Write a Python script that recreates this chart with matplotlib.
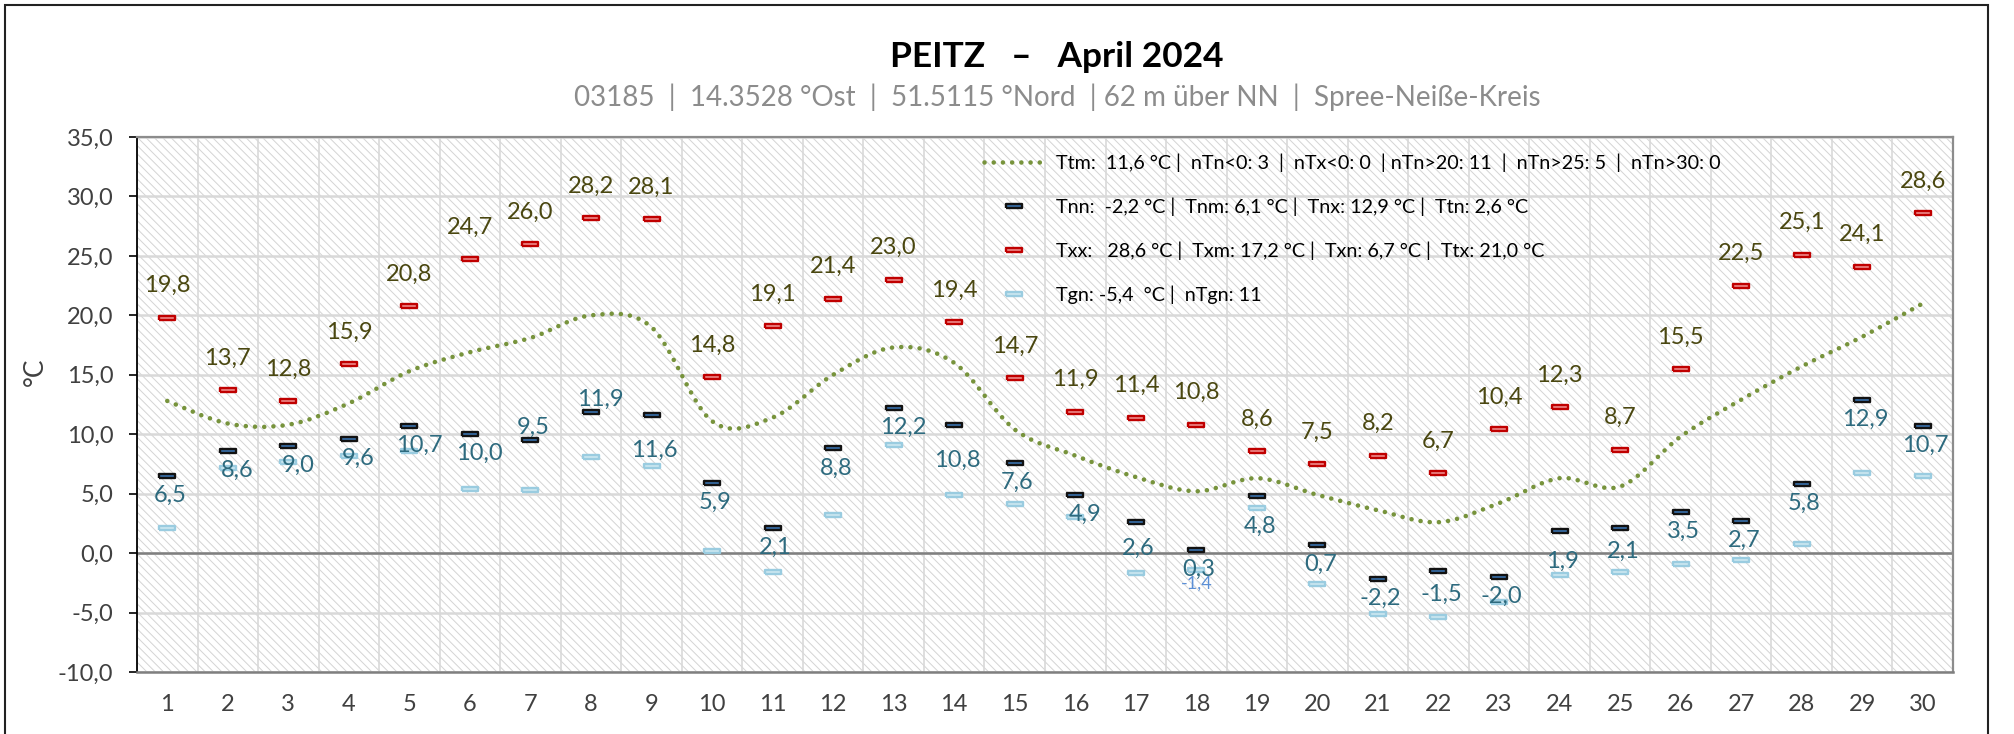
import matplotlib
matplotlib.use("Agg")
import matplotlib.pyplot as plt
import numpy as np
from matplotlib.path import Path
from matplotlib.patches import PathPatch, Rectangle
from matplotlib.lines import Line2D

plt.rcParams['font.family'] = ['Lato', 'DejaVu Sans']
plt.rcParams['hatch.linewidth'] = 0.7

# --- data (April 2024, Peitz) ---
days = list(range(1, 31))
t_max = [19.8, 13.7, 12.8, 15.9, 20.8, 24.7, 26.0, 28.2, 28.1, 14.8,
         19.1, 21.4, 23.0, 19.4, 14.7, 11.9, 11.4, 10.8, 8.6, 7.5,
         8.2, 6.7, 10.4, 12.3, 8.7, 15.5, 22.5, 25.1, 24.1, 28.6]
t_min = [6.5, 8.6, 9.0, 9.6, 10.7, 10.0, 9.5, 11.9, 11.6, 5.9,
         2.1, 8.8, 12.2, 10.8, 7.6, 4.9, 2.6, 0.3, 4.8, 0.7,
         -2.2, -1.5, -2.0, 1.9, 2.1, 3.5, 2.7, 5.8, 12.9, 10.7]
t_ground = [2.1, 7.2, 7.7, 8.2, 8.6, 5.4, 5.3, 8.1, 7.3, 0.2,
            -1.6, 3.2, 9.1, 4.9, 4.1, 3.0, -1.7, -1.4, 3.8, -2.6,
            -5.1, -5.4, -4.1, -1.8, -1.6, -0.9, -0.6, 0.8, 6.7, 6.5]
t_mean = [12.8, 10.9, 10.8, 12.6, 15.3, 16.9, 18.1, 20.0, 19.0, 11.1,
          11.4, 15.0, 17.3, 16.0, 10.4, 8.2, 6.4, 5.2, 6.3, 4.9,
          3.6, 2.6, 4.2, 6.3, 5.6, 9.8, 12.9, 15.7, 18.2, 21.0]

legend_labels = [
    "Ttm:  11,6 °C |  nTn<0: 3  |  nTx<0: 0  | nTn>20: 11  |  nTn>25: 5  |  nTn>30: 0",
    "Tnn:  -2,2 °C |  Tnm: 6,1 °C |  Tnx: 12,9 °C |  Ttn: 2,6 °C",
    "Txx:   28,6 °C |  Txm: 17,2 °C |  Txn: 6,7 °C |  Ttx: 21,0 °C",
    "Tgn: -5,4  °C |  nTgn: 11",
]
title = "PEITZ   –   April 2024"
subtitle = "03185  |  14.3528 °Ost  |  51.5115 °Nord  | 62 m über NN  |  Spree-Neiße-Kreis"


def fmt(v):
    return f"{v:.1f}".replace(".", ",")


W, H = 2014, 734
fig = plt.figure(figsize=(W / 100, H / 100), dpi=100)
ax = fig.add_axes([137 / W, 62 / H, (1953 - 137) / W, (672 - 137) / H])

# hatched plot background
ax.add_patch(Rectangle((0, 0), 1, 1, transform=ax.transAxes, facecolor='white',
                       edgecolor='#D4D4D4', hatch='\\' * 4, linewidth=0, zorder=0))

ax.set_xlim(0.5, 30.5)
ax.set_ylim(-10, 35)
ax.set_xticks(days)
ax.set_xticks(np.arange(0.5, 31, 1), minor=True)
ax.set_yticks(np.arange(-10, 36, 5))
ax.set_yticklabels([fmt(v) for v in np.arange(-10, 36, 5)])
ax.tick_params(axis='x', which='both', length=0, pad=16, labelsize=17, labelcolor='#404040')
ax.tick_params(axis='y', length=6, width=1.2, color='black', pad=11, labelsize=17, labelcolor='#404040')
ax.set_axisbelow(True)
ax.grid(axis='x', which='minor', color='#D9D9D9', lw=1.2)
ax.grid(axis='y', which='major', color='#D9D9D9', lw=1.8)
ax.axhline(0, color='#7F7F7F', lw=1.8, zorder=1.5)
ax.spines['left'].set_color('black')
ax.spines['left'].set_linewidth(1.3)
ax.spines['bottom'].set_color('#7F7F7F')
ax.spines['bottom'].set_linewidth(1.8)
for s in ('top', 'right'):
    ax.spines[s].set_color('#8C8C8C')
    ax.spines[s].set_linewidth(1.6)

# smoothed dotted mean line (Catmull-Rom -> Bezier)
pts = np.column_stack([days, t_mean]).astype(float)
n = len(pts)
verts = [pts[0]]
codes = [Path.MOVETO]
for i in range(n - 1):
    p0 = pts[max(i - 1, 0)]
    p1 = pts[i]
    p2 = pts[i + 1]
    p3 = pts[min(i + 2, n - 1)]
    verts += [p1 + (p2 - p0) / 6, p2 - (p3 - p1) / 6, p2]
    codes += [Path.CURVE4] * 3
dot_style = dict(color='#77933C', lw=3.3, linestyle=(0, (0.01, 2.0)))
ax.add_patch(PathPatch(Path(verts, codes), fill=False, edgecolor='#77933C', lw=3.3,
                       linestyle=(0, (0.01, 2.0)), capstyle='round', zorder=3))

# dash markers
dash = [(-1, -0.26), (1, -0.26), (1, 0.26), (-1, 0.26), (-1, -0.26)]
mk = dict(linestyle='none', marker=dash, ms=11.5, mew=1.7)
st_max = dict(mfc='#EE8C8C', mec='#C00000')
st_min = dict(mfc='#3A72AE', mec='#121212')
st_gnd = dict(mfc='#CDE7F1', mec='#9ACCE0')
ax.plot(days, t_ground, zorder=4, **mk, **st_gnd)
ax.plot(days, t_min, zorder=5, **mk, **st_min)
ax.plot(days, t_max, zorder=5, **mk, **st_max)

# data labels
for d, v in zip(days, t_max):
    ax.annotate(fmt(v), (d, v), xytext=(0, 23), textcoords='offset points',
                ha='center', va='center', fontsize=17, color='#4A4710', zorder=6)

shift_right = {2, 3, 4, 5, 6, 8, 13, 16}
dy_special = {7: 9, 8: 9, 9: -25, 14: -26, 17: -19, 19: -22, 22: -17, 24: -22, 25: -17}
for d, v in zip(days, t_min):
    dx = 7 if d in shift_right else 2
    dy = dy_special.get(d, -14)
    ax.annotate(fmt(v), (d, v), xytext=(dx, dy), textcoords='offset points',
                ha='center', va='center', fontsize=17, color='#2D6A7E', zorder=6)

d18 = 18
ax.annotate(fmt(t_ground[d18 - 1]), (d18, t_ground[d18 - 1]), xytext=(0, -10),
            textcoords='offset points', ha='center', va='center', fontsize=13,
            color='#5B8FD6', zorder=6)

# legend
handles = [
    Line2D([], [], dash_capstyle='round', **dot_style),
    Line2D([], [], **mk, **st_min),
    Line2D([], [], **mk, **st_max),
    Line2D([], [], **mk, **st_gnd),
]
ax.legend(handles, legend_labels, loc='upper left', bbox_to_anchor=(984 / W, 1 - 153 / H),
          bbox_transform=fig.transFigure, frameon=False, fontsize=14.2, handlelength=3.0,
          handletextpad=0.65, labelspacing=1.3, borderpad=0, borderaxespad=0)

# titles and axis label
fig.text(1057 / W, 1 - 57 / H, title, ha='center', va='center', fontsize=25.4,
         fontweight='bold', color='black')
fig.text(1057 / W, 1 - 97 / H, subtitle, ha='center', va='center', fontsize=20,
         color='#8C8C8C')
fig.text(35 / W, 1 - 372 / H, '°C', rotation=90, ha='center', va='center',
         fontsize=19, color='#404040')

# outer chart frame
fig.add_artist(Rectangle((5 / W, -0.05), (1988 - 5) / W, 1.05 - 5 / H,
                         transform=fig.transFigure, fill=False, edgecolor='#222222', lw=1.5))

fig.savefig('out.png', dpi=100)
